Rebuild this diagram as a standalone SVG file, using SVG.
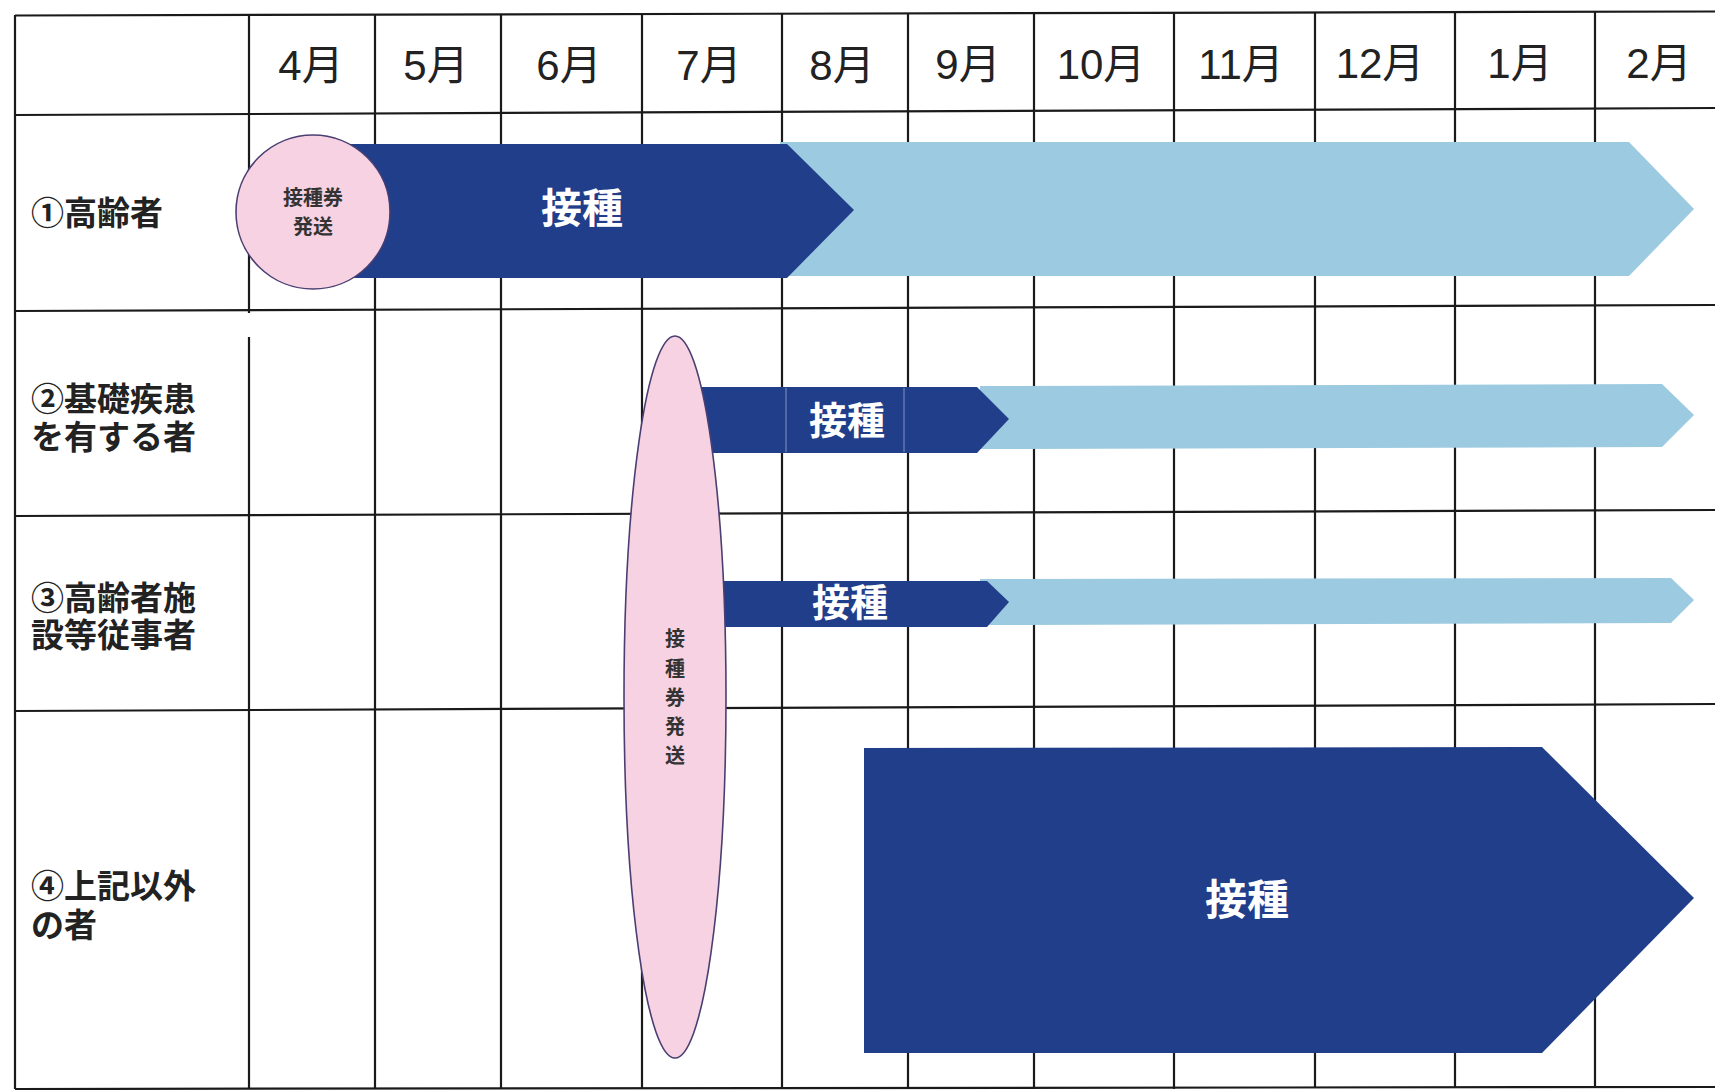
<svg xmlns="http://www.w3.org/2000/svg" width="1715" height="1090" viewBox="0 0 1715 1090">
<style>
.grid{stroke:#1a1a1a;stroke-width:2.2;fill:none}
.month{font-family:"Liberation Sans","Noto Sans CJK JP",sans-serif;font-size:42px;fill:#222;text-anchor:middle}
.lbl{font-family:"Noto Sans CJK JP","Liberation Sans",sans-serif;font-size:33px;font-weight:bold;fill:#222}
.dark{fill:#203e8a}
.light{fill:#9ccae0}
.bartxt{font-family:"Noto Sans CJK JP",sans-serif;font-weight:bold;fill:#fff;text-anchor:middle}
.pink{fill:#f6d2e2;stroke:#4a3f72;stroke-width:1.6}
.ptxt{font-family:"Noto Sans CJK JP",sans-serif;font-size:20px;font-weight:bold;fill:#333;text-anchor:middle}
</style>
<rect width="1715" height="1090" fill="#fff"/>
<g id="grid">
<line class="grid" x1="15" y1="15.5" x2="1715" y2="11.5"/>
<line class="grid" x1="15" y1="115" x2="1715" y2="108"/>
<line class="grid" x1="15" y1="311" x2="1715" y2="305"/>
<line class="grid" x1="15" y1="516" x2="1715" y2="510"/>
<line class="grid" x1="15" y1="711" x2="1715" y2="704"/>
<line class="grid" x1="15" y1="1089" x2="1715" y2="1087"/>
<line class="grid" x1="15" y1="15" x2="15" y2="1089"/>
<line class="grid" x1="249" y1="15" x2="249" y2="1089"/>
<line class="grid" x1="375" y1="15" x2="375" y2="1089"/>
<line class="grid" x1="501" y1="15" x2="501" y2="1089"/>
<line class="grid" x1="642" y1="15" x2="642" y2="1089"/>
<line class="grid" x1="782" y1="14" x2="782" y2="1089"/>
<line class="grid" x1="908" y1="14" x2="908" y2="1089"/>
<line class="grid" x1="1034" y1="13" x2="1034" y2="1089"/>
<line class="grid" x1="1174" y1="13" x2="1174" y2="1089"/>
<line class="grid" x1="1315" y1="13" x2="1315" y2="1088"/>
<line class="grid" x1="1455" y1="12" x2="1455" y2="1088"/>
<line class="grid" x1="1595" y1="12" x2="1595" y2="1088"/>
<rect x="246" y="313" width="124" height="24" fill="#fff"/>
</g>
<g id="months">
<text class="month" x="311" y="80">4月</text>
<text class="month" x="436" y="80">5月</text>
<text class="month" x="569" y="80">6月</text>
<text class="month" x="709" y="80">7月</text>
<text class="month" x="842" y="80">8月</text>
<text class="month" x="968" y="79">9月</text>
<text class="month" x="1101" y="79">10月</text>
<text class="month" x="1241" y="79">11月</text>
<text class="month" x="1380" y="78">12月</text>
<text class="month" x="1520" y="78">1月</text>
<text class="month" x="1659" y="78">2月</text>
</g>
<g id="labels">
<text class="lbl" x="31" y="225">①高齢者</text>
<text class="lbl" x="31" y="411">②基礎疾患<tspan x="31" dy="38">を有する者</tspan></text>
<text class="lbl" x="31" y="610">③高齢者施<tspan x="31" dy="37">設等従事者</tspan></text>
<text class="lbl" x="31" y="898">④上記以外<tspan x="31" dy="39">の者</tspan></text>
</g>
<g id="row1">
<polygon class="light" points="780,142 1629,142 1694,209 1629,276 780,276"/>
<polygon class="dark" points="320,144 787,144 854,210 787,278 320,278"/>
<text class="bartxt" x="582" y="223" font-size="41">接種</text>
<g id="circle1">
<circle class="pink" cx="313" cy="212" r="77"/>
<text class="ptxt" x="313" y="205">接種券</text>
<text class="ptxt" x="313" y="234">発送</text>
</g>
</g>
<g id="row2">
<polygon class="light" points="980,386 1662,384 1694,415 1662,447 980,449"/>
<polygon class="dark" points="690,387 977,387 1009,419 977,453 690,453"/>
<line x1="786" y1="388" x2="786" y2="452" stroke="#ffffff" stroke-opacity="0.3" stroke-width="1.5"/>
<line x1="904" y1="388" x2="904" y2="452" stroke="#ffffff" stroke-opacity="0.3" stroke-width="1.5"/>
<text class="bartxt" x="847" y="434" font-size="38">接種</text>
</g>
<g id="row3">
<polygon class="light" points="980,579 1671,578 1694,600 1671,623 980,625"/>
<polygon class="dark" points="700,581 987,581 1009,602 987,627 700,627"/>
<text class="bartxt" x="850" y="616" font-size="38">接種</text>
</g>
<g id="row4">
<polygon class="dark" points="864,748 1542,747 1694,898 1542,1053 864,1053"/>
<text class="bartxt" x="1247" y="915" font-size="42" font-weight="500">接種</text>
</g>
<g id="ellipse">
<ellipse class="pink" cx="675" cy="697" rx="51" ry="361"/>
<text class="ptxt" x="675" y="646">接</text>
<text class="ptxt" x="675" y="676">種</text>
<text class="ptxt" x="675" y="705">券</text>
<text class="ptxt" x="675" y="734">発</text>
<text class="ptxt" x="675" y="763">送</text>
</g>
</svg>
